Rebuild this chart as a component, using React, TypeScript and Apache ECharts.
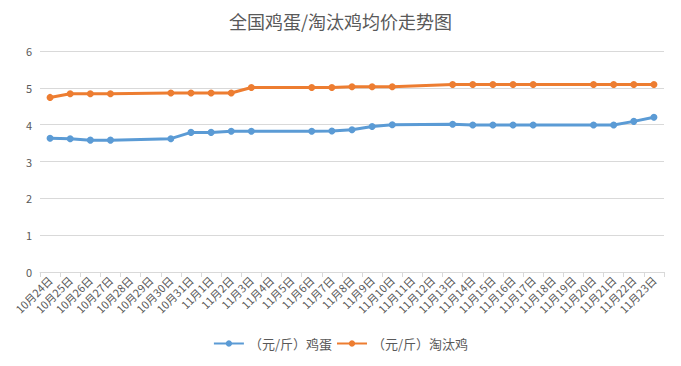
import React, { useEffect, useRef } from "react";
import * as echarts from "echarts";

const categories = [
  "10月24日", "10月25日", "10月26日", "10月27日", "10月28日", "10月29日", "10月30日", "10月31日",
  "11月1日", "11月2日", "11月3日", "11月4日", "11月5日", "11月6日", "11月7日", "11月8日",
  "11月9日", "11月10日", "11月11日", "11月12日", "11月13日", "11月14日", "11月15日", "11月16日",
  "11月17日", "11月18日", "11月19日", "11月20日", "11月21日", "11月22日", "11月23日",
];

const eggPrices: (number | null)[] = [
  3.63, 3.62, 3.58, 3.58, null, null, 3.62, 3.79,
  3.79, 3.82, 3.82, null, null, 3.82, 3.83, 3.86,
  3.95, 4.0, null, null, 4.01, 3.99, 3.99, 3.99,
  3.99, null, null, 3.99, 3.99, 4.09, 4.2,
];

const henPrices: (number | null)[] = [
  4.74, 4.84, 4.84, 4.84, null, null, 4.86, 4.86,
  4.86, 4.86, 5.01, null, null, 5.01, 5.01, 5.03,
  5.03, 5.03, null, null, 5.09, 5.09, 5.09, 5.09,
  5.09, null, null, 5.09, 5.09, 5.09, 5.09,
];

const seriesNames = ["（元/斤）鸡蛋", "（元/斤）淘汰鸡"];
const titleText = "全国鸡蛋/淘汰鸡均价走势图";

const FONT = "'Microsoft YaHei', 'Noto Sans CJK SC', sans-serif";

export default function App() {
  const ref = useRef<HTMLDivElement>(null);
  useEffect(() => {
    if (!ref.current) return;
    const chart = echarts.init(ref.current, undefined, { renderer: "svg" });
    chart.setOption({
      animation: false,
      backgroundColor: "#ffffff",
      textStyle: { fontFamily: FONT },
      title: {
        text: titleText,
        left: "center",
        top: 7,
        textStyle: { fontSize: 18, fontWeight: "normal", color: "#595959", fontFamily: FONT },
      },
      legend: {
        bottom: 11,
        left: "center",
        itemWidth: 30,
        itemHeight: 8,
        itemGap: 4,
        textStyle: { fontSize: 13, color: "#595959", fontFamily: FONT },
        data: seriesNames,
      },
      grid: { left: 40, right: 17, top: 51, bottom: 94, containLabel: false },
      xAxis: {
        type: "category",
        data: categories,
        boundaryGap: true,
        axisLine: { lineStyle: { color: "#d9d9d9" } },
        axisTick: { show: true, length: 5, lineStyle: { color: "#d9d9d9" } },
        axisLabel: {
          interval: 0,
          rotate: 45,
          fontSize: 11,
          color: "#595959",
          fontFamily: FONT,
          margin: 6,
        },
      },
      yAxis: {
        type: "value",
        min: 0,
        max: 6,
        interval: 1,
        axisLine: { show: false },
        axisTick: { show: false },
        axisLabel: { fontSize: 11, color: "#595959", margin: 8, fontFamily: FONT },
        splitLine: { lineStyle: { color: "#d9d9d9" } },
      },
      series: [
        {
          name: seriesNames[0],
          type: "line",
          data: eggPrices,
          connectNulls: true,
          symbol: "circle",
          symbolSize: 7,
          itemStyle: { color: "#5B9BD5" },
          lineStyle: { width: 3, color: "#5B9BD5" },
        },
        {
          name: seriesNames[1],
          type: "line",
          data: henPrices,
          connectNulls: true,
          symbol: "circle",
          symbolSize: 7,
          itemStyle: { color: "#ED7D31" },
          lineStyle: { width: 3, color: "#ED7D31" },
        },
      ],
    });
    return () => chart.dispose();
  }, []);
  return <div ref={ref} style={{ width: 681, height: 366, position: "absolute", left: 0, top: 0 }} />;
}
